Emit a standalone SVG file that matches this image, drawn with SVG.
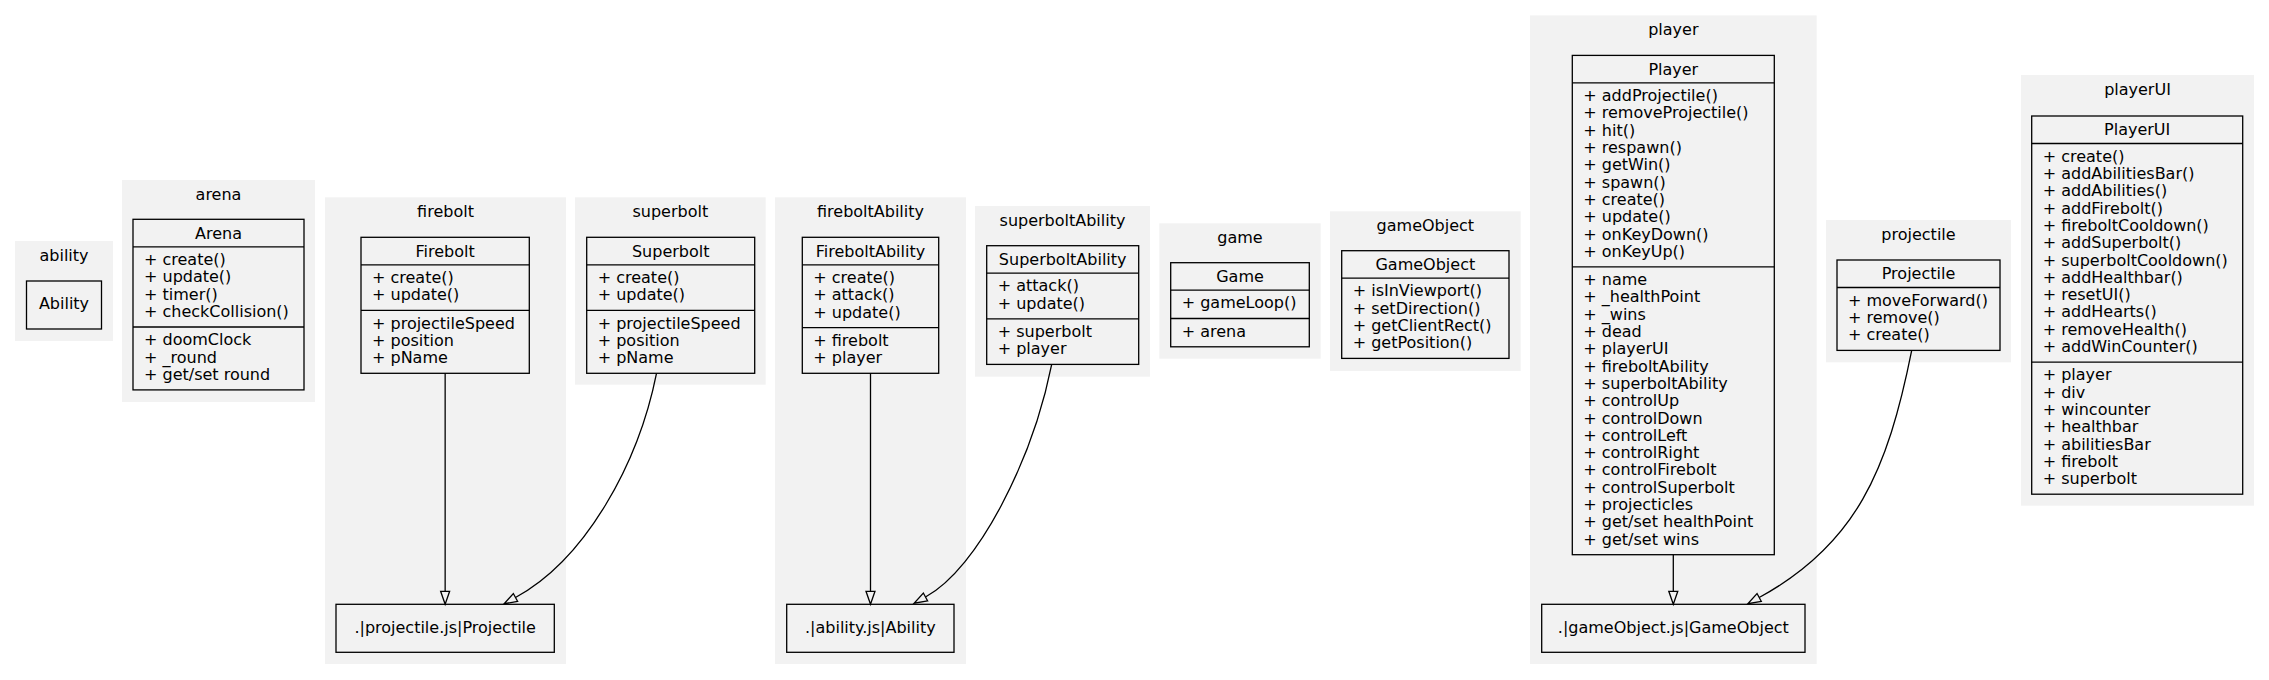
<svg xmlns="http://www.w3.org/2000/svg" width="2269" height="680" viewBox="0 0 2269 680">
<style>
.cl{fill:#f2f2f2;stroke:none}
.nd{fill:#f2f2f2;stroke:#000;stroke-width:1.3}
.sp{stroke:#000;stroke-width:1.3}
text{font-family:"DejaVu Sans","Verdana",sans-serif;font-size:16px;fill:#000}
.c{text-anchor:middle}
.e{fill:none;stroke:#000;stroke-width:1.3;marker-end:url(#arr)}
</style>
<defs>
<marker id="arr" markerUnits="userSpaceOnUse" markerWidth="14" markerHeight="10" refX="0" refY="4.5" orient="auto" overflow="visible">
<path d="M0,0 L13,4.5 L0,9 Z" fill="none" stroke="#000" stroke-width="1.3"/>
</marker>
</defs>
<rect width="2269" height="680" fill="#fff"/>

<g id="cluster_ability">
<rect class="cl" x="15" y="241" width="98" height="100"/>
<text class="c" x="64" y="260.5">ability</text>
<g id="Ability">
<rect class="nd" x="26.5" y="281" width="75" height="48"/>
<text class="c" x="64" y="309">Ability</text>
</g>
</g>

<g id="cluster_arena">
<rect class="cl" x="122" y="180" width="193" height="222"/>
<text class="c" x="218.5" y="199.5">arena</text>
<g id="Arena">
<rect class="nd" x="133" y="219.3" width="171" height="170.6"/>
<line class="sp" x1="133" y1="246.8" x2="304" y2="246.8"/>
<line class="sp" x1="133" y1="327" x2="304" y2="327"/>
<text class="c" x="218.5" y="238.6">Arena</text>
<text x="144" y="265">+ create()</text>
<text x="144" y="282.3">+ update()</text>
<text x="144" y="299.6">+ timer()</text>
<text x="144" y="316.9">+ checkCollision()</text>
<text x="144" y="345.2">+ doomClock</text>
<text x="144" y="362.5">+ _round</text>
<text x="144" y="379.8">+ get/set round</text>
</g>
</g>

<g id="cluster_firebolt">
<rect class="cl" x="325" y="197.3" width="241" height="466.7"/>
<text class="c" x="445.5" y="216.8">firebolt</text>
<g id="Firebolt">
<rect class="nd" x="361" y="237.3" width="168.3" height="136"/>
<line class="sp" x1="361" y1="264.8" x2="529.3" y2="264.8"/>
<line class="sp" x1="361" y1="310.4" x2="529.3" y2="310.4"/>
<text class="c" x="445.15" y="256.6">Firebolt</text>
<text x="372" y="283">+ create()</text>
<text x="372" y="300.3">+ update()</text>
<text x="372" y="328.6">+ projectileSpeed</text>
<text x="372" y="345.9">+ position</text>
<text x="372" y="363.2">+ pName</text>
</g>
<g id="ProjectileRef">
<rect class="nd" x="336" y="604.3" width="218.3" height="48"/>
<text class="c" x="445.15" y="632.5">.|projectile.js|Projectile</text>
</g>
</g>

<g id="cluster_superbolt">
<rect class="cl" x="575" y="197.3" width="190.7" height="187.4"/>
<text class="c" x="670.35" y="216.8">superbolt</text>
<g id="Superbolt">
<rect class="nd" x="586.7" y="237.3" width="168" height="136"/>
<line class="sp" x1="586.7" y1="264.8" x2="754.7" y2="264.8"/>
<line class="sp" x1="586.7" y1="310.4" x2="754.7" y2="310.4"/>
<text class="c" x="670.7" y="256.6">Superbolt</text>
<text x="597.7" y="283">+ create()</text>
<text x="597.7" y="300.3">+ update()</text>
<text x="597.7" y="328.6">+ projectileSpeed</text>
<text x="597.7" y="345.9">+ position</text>
<text x="597.7" y="363.2">+ pName</text>
</g>
</g>

<g id="cluster_fireboltAbility">
<rect class="cl" x="775" y="197.3" width="191" height="466.7"/>
<text class="c" x="870.5" y="216.8">fireboltAbility</text>
<g id="FireboltAbility">
<rect class="nd" x="802.3" y="237.3" width="136.4" height="136"/>
<line class="sp" x1="802.3" y1="264.8" x2="938.7" y2="264.8"/>
<line class="sp" x1="802.3" y1="327.7" x2="938.7" y2="327.7"/>
<text class="c" x="870.5" y="256.6">FireboltAbility</text>
<text x="813.3" y="283">+ create()</text>
<text x="813.3" y="300.3">+ attack()</text>
<text x="813.3" y="317.6">+ update()</text>
<text x="813.3" y="345.9">+ firebolt</text>
<text x="813.3" y="363.2">+ player</text>
</g>
<g id="AbilityRef">
<rect class="nd" x="786.7" y="604.3" width="167.3" height="48"/>
<text class="c" x="870.35" y="632.5">.|ability.js|Ability</text>
</g>
</g>

<g id="cluster_superboltAbility">
<rect class="cl" x="975" y="206" width="175" height="170.7"/>
<text class="c" x="1062.5" y="225.5">superboltAbility</text>
<g id="SuperboltAbility">
<rect class="nd" x="986.7" y="245.7" width="152" height="118.7"/>
<line class="sp" x1="986.7" y1="273.2" x2="1138.7" y2="273.2"/>
<line class="sp" x1="986.7" y1="318.8" x2="1138.7" y2="318.8"/>
<text class="c" x="1062.7" y="265">SuperboltAbility</text>
<text x="997.7" y="291.4">+ attack()</text>
<text x="997.7" y="308.7">+ update()</text>
<text x="997.7" y="337">+ superbolt</text>
<text x="997.7" y="354.3">+ player</text>
</g>
</g>

<g id="cluster_game">
<rect class="cl" x="1159.3" y="223.3" width="161.4" height="135.4"/>
<text class="c" x="1240" y="242.8">game</text>
<g id="Game">
<rect class="nd" x="1170.7" y="262.7" width="138.6" height="84.1"/>
<line class="sp" x1="1170.7" y1="290.2" x2="1309.3" y2="290.2"/>
<line class="sp" x1="1170.7" y1="318.5" x2="1309.3" y2="318.5"/>
<text class="c" x="1240" y="282">Game</text>
<text x="1181.7" y="308.4">+ gameLoop()</text>
<text x="1181.7" y="336.7">+ arena</text>
</g>
</g>

<g id="cluster_gameObject">
<rect class="cl" x="1330" y="211.3" width="190.7" height="159.7"/>
<text class="c" x="1425.35" y="230.8">gameObject</text>
<g id="GameObject">
<rect class="nd" x="1341.7" y="250.7" width="167.3" height="107.7"/>
<line class="sp" x1="1341.7" y1="278.2" x2="1509" y2="278.2"/>
<text class="c" x="1425.35" y="270">GameObject</text>
<text x="1352.7" y="296.4">+ isInViewport()</text>
<text x="1352.7" y="313.7">+ setDirection()</text>
<text x="1352.7" y="331">+ getClientRect()</text>
<text x="1352.7" y="348.3">+ getPosition()</text>
</g>
</g>

<g id="cluster_player">
<rect class="cl" x="1530" y="15.4" width="286.7" height="648.6"/>
<text class="c" x="1673.35" y="34.9">player</text>
<g id="Player">
<rect class="nd" x="1572.3" y="55.4" width="202" height="499.3"/>
<line class="sp" x1="1572.3" y1="82.9" x2="1774.3" y2="82.9"/>
<line class="sp" x1="1572.3" y1="266.9" x2="1774.3" y2="266.9"/>
<text class="c" x="1673.3" y="74.7">Player</text>
<text x="1583.3" y="101.1">+ addProjectile()</text>
<text x="1583.3" y="118.4">+ removeProjectile()</text>
<text x="1583.3" y="135.7">+ hit()</text>
<text x="1583.3" y="153">+ respawn()</text>
<text x="1583.3" y="170.3">+ getWin()</text>
<text x="1583.3" y="187.6">+ spawn()</text>
<text x="1583.3" y="204.9">+ create()</text>
<text x="1583.3" y="222.2">+ update()</text>
<text x="1583.3" y="239.5">+ onKeyDown()</text>
<text x="1583.3" y="256.8">+ onKeyUp()</text>
<text x="1583.3" y="285.1">+ name</text>
<text x="1583.3" y="302.4">+ _healthPoint</text>
<text x="1583.3" y="319.7">+ _wins</text>
<text x="1583.3" y="337">+ dead</text>
<text x="1583.3" y="354.3">+ playerUI</text>
<text x="1583.3" y="371.6">+ fireboltAbility</text>
<text x="1583.3" y="388.9">+ superboltAbility</text>
<text x="1583.3" y="406.2">+ controlUp</text>
<text x="1583.3" y="423.5">+ controlDown</text>
<text x="1583.3" y="440.8">+ controlLeft</text>
<text x="1583.3" y="458.1">+ controlRight</text>
<text x="1583.3" y="475.4">+ controlFirebolt</text>
<text x="1583.3" y="492.7">+ controlSuperbolt</text>
<text x="1583.3" y="510">+ projecticles</text>
<text x="1583.3" y="527.3">+ get/set healthPoint</text>
<text x="1583.3" y="544.6">+ get/set wins</text>
</g>
<g id="GameObjectRef">
<rect class="nd" x="1541.7" y="604.3" width="263.3" height="48"/>
<text class="c" x="1673.35" y="632.5">.|gameObject.js|GameObject</text>
</g>
</g>

<g id="cluster_projectile">
<rect class="cl" x="1826" y="220" width="185" height="142.3"/>
<text class="c" x="1918.5" y="239.5">projectile</text>
<g id="Projectile">
<rect class="nd" x="1837" y="260" width="163" height="90.4"/>
<line class="sp" x1="1837" y1="287.5" x2="2000" y2="287.5"/>
<text class="c" x="1918.5" y="279.3">Projectile</text>
<text x="1848" y="305.7">+ moveForward()</text>
<text x="1848" y="323">+ remove()</text>
<text x="1848" y="340.3">+ create()</text>
</g>
</g>

<g id="cluster_playerUI">
<rect class="cl" x="2021" y="75" width="233" height="430.7"/>
<text class="c" x="2137.5" y="94.5">playerUI</text>
<g id="PlayerUI">
<rect class="nd" x="2031.7" y="116" width="211" height="378.2"/>
<line class="sp" x1="2031.7" y1="143.5" x2="2242.7" y2="143.5"/>
<line class="sp" x1="2031.7" y1="362.1" x2="2242.7" y2="362.1"/>
<text class="c" x="2137.2" y="135.3">PlayerUI</text>
<text x="2042.7" y="161.7">+ create()</text>
<text x="2042.7" y="179">+ addAbilitiesBar()</text>
<text x="2042.7" y="196.3">+ addAbilities()</text>
<text x="2042.7" y="213.6">+ addFirebolt()</text>
<text x="2042.7" y="230.9">+ fireboltCooldown()</text>
<text x="2042.7" y="248.2">+ addSuperbolt()</text>
<text x="2042.7" y="265.5">+ superboltCooldown()</text>
<text x="2042.7" y="282.8">+ addHealthbar()</text>
<text x="2042.7" y="300.1">+ resetUI()</text>
<text x="2042.7" y="317.4">+ addHearts()</text>
<text x="2042.7" y="334.7">+ removeHealth()</text>
<text x="2042.7" y="352">+ addWinCounter()</text>
<text x="2042.7" y="380.3">+ player</text>
<text x="2042.7" y="397.6">+ div</text>
<text x="2042.7" y="414.9">+ wincounter</text>
<text x="2042.7" y="432.2">+ healthbar</text>
<text x="2042.7" y="449.5">+ abilitiesBar</text>
<text x="2042.7" y="466.8">+ firebolt</text>
<text x="2042.7" y="484.1">+ superbolt</text>
</g>
</g>

<g id="edges">
<path class="e" d="M445.15,373.3 L445.15,591.3"/>
<path class="e" d="M656.5,373.3 C638.5,463.3 585.9,559.1 515.5,597.5"/>
<path class="e" d="M870.5,373.3 L870.5,591.3"/>
<path class="e" d="M1051.7,364.4 C1032.7,459.4 978.3,568.2 925.5,597"/>
<path class="e" d="M1673.3,554.7 L1673.3,591.3"/>
<path class="e" d="M1911.7,350.4 C1887.7,470.4 1856,544.7 1759.2,597.5"/>
</g>
</svg>
